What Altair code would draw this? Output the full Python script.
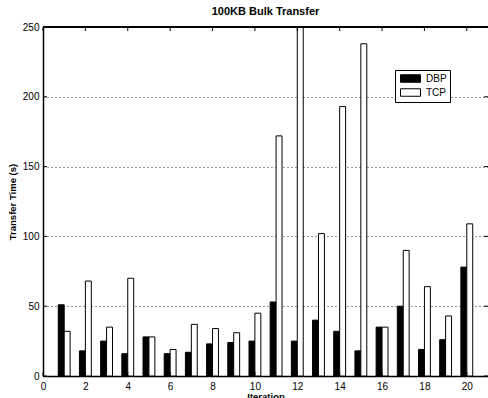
import altair as alt
import pandas as pd

iterations = list(range(1, 21))
dbp = [51, 18, 25, 16, 28, 16, 17, 23, 24, 25, 53, 25, 40, 32, 18, 35, 50, 19, 26, 78]
tcp = [32, 68, 35, 70, 28, 19, 37, 34, 31, 45, 172, 260, 102, 193, 238, 35, 90, 64, 43, 109]
series_names = ["DBP", "TCP"]
series_colors = ["black", "white"]
x_ticks = list(range(0, 21, 2))
y_ticks = [0, 50, 100, 150, 200, 250]

rows = []
for i, d, t in zip(iterations, dbp, tcp):
    rows.append({"iteration": i, "series": "DBP", "value": d})
    rows.append({"iteration": i, "series": "TCP", "value": t})
df = pd.DataFrame(rows)

W, H = 445, 349
BAR = 0.28
TICK = 4
X_MAX, Y_MAX = 21, 250
TX = TICK * X_MAX / W
TY = TICK * Y_MAX / H
FONT = "Liberation Sans"

xscale = alt.Scale(domain=[0, X_MAX], nice=False, zero=False)
yscale = alt.Scale(domain=[0, Y_MAX], nice=False)

base = alt.Chart(df).transform_calculate(
    x0=f"datum.series == 'DBP' ? datum.iteration - {BAR} : datum.iteration"
).transform_calculate(x1=f"datum.x0 + {BAR}")

bars = base.mark_bar(stroke="black", strokeWidth=1, clip=True).encode(
    x=alt.X("x0:Q", scale=xscale,
            axis=alt.Axis(values=x_ticks, title="Iteration", tickSize=0, labelPadding=5,
                          titlePadding=0, domainColor="black", domainWidth=1.5,
                          labelFontSize=10, titleFontSize=9.5, titleFontWeight="bold",
                          labelColor="black", titleColor="black", grid=False, labelFlush=False)),
    x2="x1:Q",
    y=alt.Y("value:Q", scale=yscale,
            axis=alt.Axis(values=y_ticks, title="Transfer Time (s)", tickSize=0, labelPadding=4,
                          titlePadding=5, domainColor="black", domainWidth=1.5,
                          labelFontSize=10, titleFontSize=9.5, titleFontWeight="bold",
                          labelColor="black", titleColor="black",
                          grid=True, gridColor="black", gridDash=[1, 3], gridOpacity=0.8,
                          gridWidth=1)),
    y2=alt.datum(0),
    fill=alt.Fill("series:N", scale=alt.Scale(domain=series_names, range=series_colors),
                  legend=alt.Legend(title=None, orient="none", legendX=352, legendY=43,
                                    strokeColor="black", fillColor="white", padding=3,
                                    symbolType="M-2,-0.75H2V0.75H-2Z", symbolSize=100,
                                    symbolOffset=7,
                                    symbolStrokeColor="black", symbolStrokeWidth=1,
                                    labelFontSize=10, labelColor="black", labelOffset=10,
                                    rowPadding=1)),
)

xt = pd.DataFrame({"t": x_ticks})
yt = pd.DataFrame({"t": y_ticks})

# top frame line
frame_top = alt.Chart(xt).mark_rule(color="black", strokeWidth=1).encode(
    x=alt.X(datum=0, scale=xscale, axis=None),
    x2=alt.datum(X_MAX),
    y=alt.Y(datum=Y_MAX, scale=yscale, axis=None),
)
# inward ticks: bottom, top
bottom_ticks = alt.Chart(xt).mark_rule(color="black", strokeWidth=1).encode(
    x=alt.X("t:Q", scale=xscale, axis=None),
    y=alt.Y(datum=0, scale=yscale, axis=None),
    y2=alt.datum(TY),
)
top_ticks = alt.Chart(xt).mark_rule(color="black", strokeWidth=1).encode(
    x=alt.X("t:Q", scale=xscale, axis=None),
    y=alt.Y(datum=Y_MAX, scale=yscale, axis=None),
    y2=alt.datum(Y_MAX - TY),
)
# inward ticks: left, right
left_ticks = alt.Chart(yt).mark_rule(color="black", strokeWidth=1).encode(
    y=alt.Y("t:Q", scale=yscale, axis=None),
    x=alt.X(datum=0, scale=xscale, axis=None),
    x2=alt.datum(TX),
)
right_ticks = alt.Chart(yt).mark_rule(color="black", strokeWidth=1).encode(
    y=alt.Y("t:Q", scale=yscale, axis=None),
    x=alt.X(datum=X_MAX, scale=xscale, axis=None),
    x2=alt.datum(X_MAX - TX),
)

chart = alt.layer(bars, frame_top, bottom_ticks, top_ticks, left_ticks, right_ticks).resolve_axis(
    x="independent", y="independent"
).properties(
    width=W, height=H,
    title=alt.Title("100KB Bulk Transfer", fontSize=11, fontWeight="bold", color="black",
                    anchor="middle", offset=5),
    autosize=alt.AutoSizeParams(type="none"),
    padding={"left": 43, "top": 27, "right": 0, "bottom": 22},
).configure(font=FONT).configure_view(stroke=None)

chart.save("out.html", embed_options={"renderer": "svg", "actions": False})
